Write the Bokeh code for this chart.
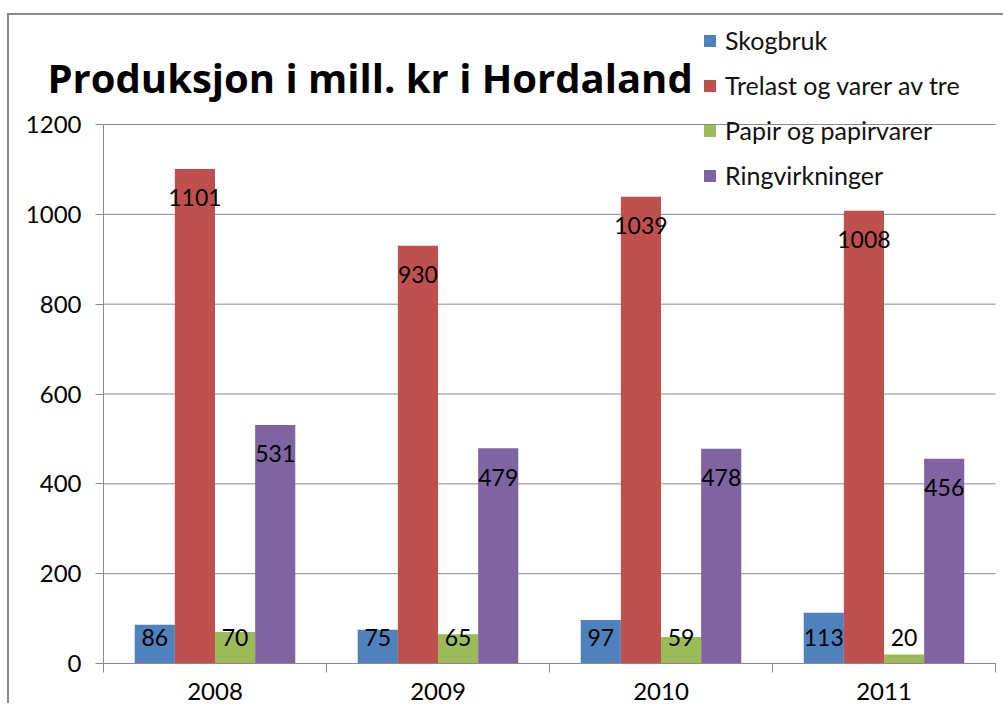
from bokeh.plotting import figure
from bokeh.models import (FixedTicker, Label, Legend, LegendItem, ColumnDataSource, Range1d)
from bokeh.core.properties import value
from bokeh.embed import file_html
from bokeh.resources import INLINE

years = ["2008", "2009", "2010", "2011"]
series = ["Skogbruk", "Trelast og varer av tre", "Papir og papirvarer", "Ringvirkninger"]
skogbruk = [86, 75, 97, 113]
trelast = [1101, 930, 1039, 1008]
papir = [70, 65, 59, 20]
ringvirkninger = [531, 479, 478, 456]
y_ticks = [0, 200, 400, 600, 800, 1000, 1200]
colors = ["#4F81BD", "#C0504D", "#9BBB59", "#8064A2"]
title_text = "Produksjon i mill. kr i Hordaland"

FONT = "Lato"
GRAY = "#8a8a8a"
values_all = [skogbruk, trelast, papir, ringvirkninger]

# layout in page pixels
CANVAS_X, CANVAS_Y, W, H = 9, 15, 996, 690
AX_LEFT, AX_RIGHT, AX_TOP, AX_BOTTOM = 103, 995, 124, 663
n = len(years)
ymax = y_ticks[-1]
xpx = (AX_RIGHT - AX_LEFT) / n
ypx = (AX_BOTTOM - AX_TOP) / ymax
x_range = Range1d((CANVAS_X - AX_LEFT) / xpx, n + (CANVAS_X + W - AX_RIGHT) / xpx)
y_range = Range1d(-(CANVAS_Y + H - AX_BOTTOM) / ypx, ymax + (AX_TOP - CANVAS_Y) / ypx)

p = figure(width=W, height=H, output_backend="svg", toolbar_location=None, title=None,
           x_range=x_range, y_range=y_range, min_border=0)
p.styles = {"margin-left": "7px", "margin-top": "13px",
            "border-top": "2px solid " + GRAY, "border-left": "2px solid " + GRAY}
p.outline_line_color = None
p.background_fill_color = "white"
p.border_fill_color = "white"
p.xgrid.visible = False
p.ygrid.visible = False

# gridlines limited to plot area
grid_src = ColumnDataSource(dict(x0=[0] * (len(y_ticks) - 1), x1=[n] * (len(y_ticks) - 1),
                                 y=y_ticks[1:]))
p.segment(x0="x0", y0="y", x1="x1", y1="y", source=grid_src, line_color=GRAY, line_width=1)

bar_w = 0.18
offsets = [-1.5 * bar_w, -0.5 * bar_w, 0.5 * bar_w, 1.5 * bar_w]
centers = [i + 0.5 for i in range(n)]

renderers = []
for s, vals, col, off in zip(series, values_all, colors, offsets):
    xs = [c + off for c in centers]
    src = ColumnDataSource(dict(x=xs, top=vals, lab=[str(v) for v in vals],
                                ly=[max(v - 64, 58) for v in vals]))
    r = p.vbar(x="x", top="top", bottom=0, width=bar_w, source=src, fill_color=col, line_color=None)
    renderers.append(r)
    p.text(x="x", y="ly", text="lab", source=src, text_align="center", text_baseline="middle",
           text_font=value(FONT), text_font_size="23px", text_color="black")

# axes fixed at data origin
p.xaxis.fixed_location = 0
p.xaxis.bounds = (0, n)
p.xaxis.ticker = FixedTicker(ticks=centers, minor_ticks=list(range(n + 1)))
p.xaxis.major_label_overrides = {c: y for c, y in zip(centers, years)}
p.xaxis.major_tick_out = 0
p.xaxis.major_tick_in = 0
p.xaxis.minor_tick_out = 9
p.xaxis.minor_tick_in = 0
p.xaxis.major_label_standoff = 10
p.yaxis.fixed_location = 0
p.yaxis.bounds = (0, ymax)
p.yaxis.ticker = FixedTicker(ticks=y_ticks)
p.yaxis.major_tick_out = 8
p.yaxis.major_tick_in = 0
p.yaxis.minor_tick_out = 0
p.yaxis.major_label_standoff = 14
for ax in (p.xaxis, p.yaxis):
    ax.axis_line_color = GRAY
    ax.major_tick_line_color = GRAY
    ax.minor_tick_line_color = GRAY
    ax.major_label_text_font = FONT
    ax.major_label_text_font_size = "24px"
    ax.major_label_text_color = "black"

legend = Legend(items=[LegendItem(label=s, renderers=[r]) for s, r in zip(series, renderers)],
                location=(693, 515), orientation="vertical", padding=0, margin=0, spacing=15,
                glyph_width=15, glyph_height=15, label_height=20, label_standoff=8,
                label_text_font=FONT, label_text_font_size="25px", label_text_color="#111111",
                border_line_color=None, background_fill_alpha=0)
p.add_layout(legend, "center")

p.add_layout(Label(x=38, y=628, x_units="screen", y_units="screen", text=title_text,
                   text_font="Open Sans", text_font_size="40px", text_font_style="bold",
                   text_baseline="alphabetic", text_color="black"))

open("out.html", "w").write(file_html(p, INLINE))
